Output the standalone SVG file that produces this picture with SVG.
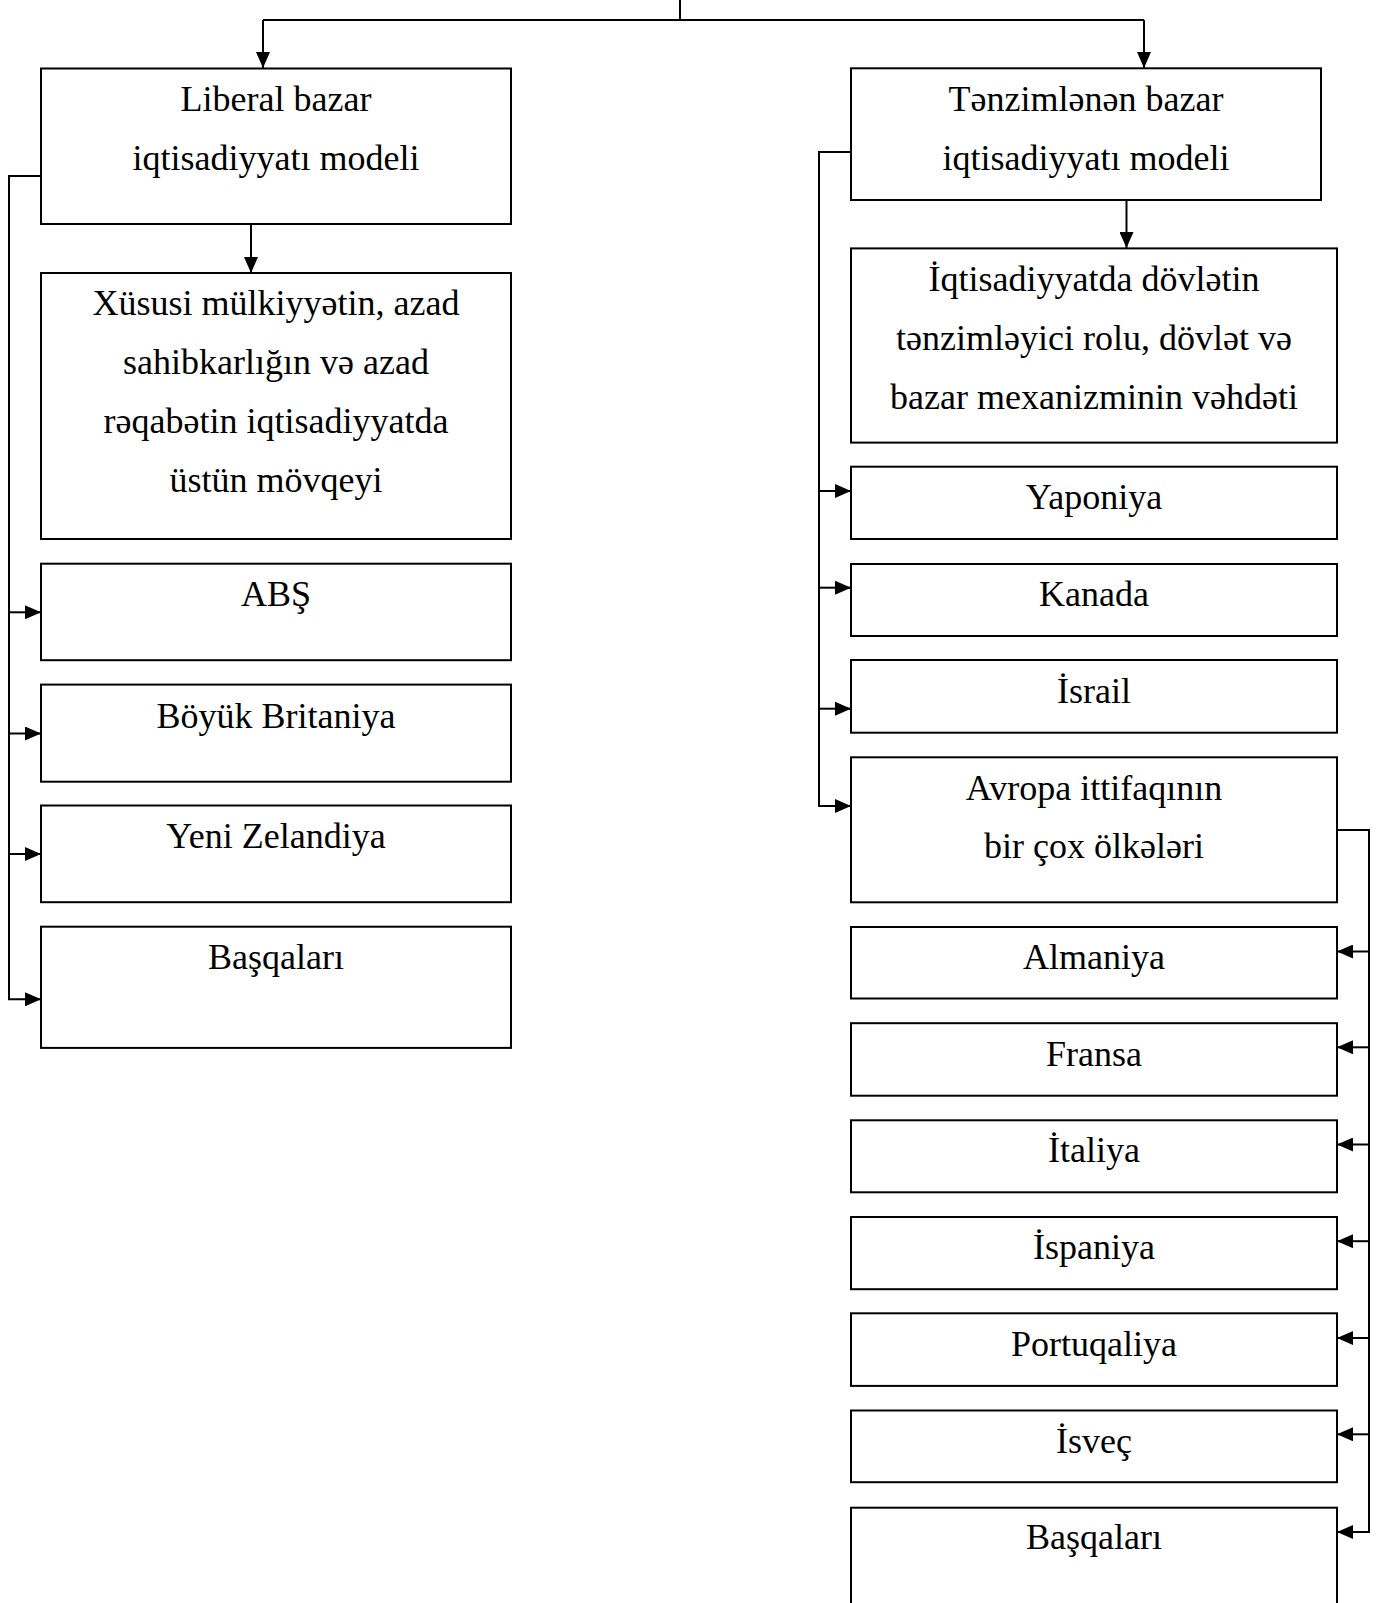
<svg xmlns="http://www.w3.org/2000/svg" width="1386" height="1603" viewBox="0 0 1386 1603">
<style>
.box{fill:#fff;stroke:#000;stroke-width:2}
.t{font-family:"Liberation Serif","Times New Roman","DejaVu Serif",serif;font-size:36px;fill:#000;text-anchor:middle}
.c{fill:none;stroke:#000;stroke-width:2}
</style>
<defs>
<marker id="ah" viewBox="0 0 16 14" refX="16" refY="7" markerWidth="16" markerHeight="14" markerUnits="userSpaceOnUse" orient="auto">
<path d="M0,0 L16,7 L0,14 z" fill="#000"/>
</marker>
</defs>
<rect width="1386" height="1603" fill="#fff"/>
<g id="connectors">
<path class="c" d="M680,0 V20 M263,20 H1144"/>
<path class="c" d="M263,20 V68" marker-end="url(#ah)"/>
<path class="c" d="M1144,20 V68" marker-end="url(#ah)"/>
<path class="c" d="M251,224 V273" marker-end="url(#ah)"/>
<path class="c" d="M1126.5,200 V248" marker-end="url(#ah)"/>
<path class="c" d="M41,176 H9 V999.3"/>
<path class="c" d="M9,612.3 H41" marker-end="url(#ah)"/>
<path class="c" d="M9,733.5 H41" marker-end="url(#ah)"/>
<path class="c" d="M9,854 H41" marker-end="url(#ah)"/>
<path class="c" d="M8,999.3 H41" marker-end="url(#ah)"/>
<path class="c" d="M851,152 H819 V806"/>
<path class="c" d="M819,491 H851" marker-end="url(#ah)"/>
<path class="c" d="M819,587.7 H851" marker-end="url(#ah)"/>
<path class="c" d="M819,708.7 H851" marker-end="url(#ah)"/>
<path class="c" d="M818,806 H851" marker-end="url(#ah)"/>
<path class="c" d="M1337,830 H1369 V1532"/>
<path class="c" d="M1369,951.5 H1337" marker-end="url(#ah)"/>
<path class="c" d="M1369,1047.3 H1337" marker-end="url(#ah)"/>
<path class="c" d="M1369,1144.5 H1337" marker-end="url(#ah)"/>
<path class="c" d="M1369,1241.2 H1337" marker-end="url(#ah)"/>
<path class="c" d="M1369,1338 H1337" marker-end="url(#ah)"/>
<path class="c" d="M1369,1434.3 H1337" marker-end="url(#ah)"/>
<path class="c" d="M1370,1532 H1337" marker-end="url(#ah)"/>
</g>
<g id="liberal">
<rect class="box" x="41" y="68.5" width="470" height="155.5"/>
<text class="t" x="276" y="111">Liberal bazar</text>
<text class="t" x="276" y="170">iqtisadiyyatı modeli</text>
</g>
<g id="xususi">
<rect class="box" x="41" y="273" width="470" height="266"/>
<text class="t" x="276" y="315">Xüsusi mülkiyyətin, azad</text>
<text class="t" x="276" y="374">sahibkarlığın və azad</text>
<text class="t" x="276" y="433">rəqabətin iqtisadiyyatda</text>
<text class="t" x="276" y="492">üstün mövqeyi</text>
</g>
<g id="abs">
<rect class="box" x="41" y="563.7" width="470" height="96.5"/>
<text class="t" x="276" y="606.1">ABŞ</text>
</g>
<g id="boyuk-britaniya">
<rect class="box" x="41" y="684.6" width="470" height="97.1"/>
<text class="t" x="276" y="727.6">Böyük Britaniya</text>
</g>
<g id="yeni-zelandiya">
<rect class="box" x="41" y="805.5" width="470" height="96.7"/>
<text class="t" x="276" y="847.8">Yeni Zelandiya</text>
</g>
<g id="basqalari-left">
<rect class="box" x="41" y="926.7" width="470" height="121.2"/>
<text class="t" x="276" y="969.4">Başqaları</text>
</g>
<g id="tenzimlenen">
<rect class="box" x="851" y="68.3" width="470" height="131.7"/>
<text class="t" x="1086" y="111">Tənzimlənən bazar</text>
<text class="t" x="1086" y="170">iqtisadiyyatı modeli</text>
</g>
<g id="dovlet-rolu">
<rect class="box" x="851" y="248.4" width="486" height="194.2"/>
<text class="t" x="1094" y="291.3">İqtisadiyyatda dövlətin</text>
<text class="t" x="1094" y="349.6">tənzimləyici rolu, dövlət və</text>
<text class="t" x="1094" y="408.8">bazar mexanizminin vəhdəti</text>
</g>
<g id="yaponiya">
<rect class="box" x="851" y="466.7" width="486" height="72.3"/>
<text class="t" x="1094" y="509.3">Yaponiya</text>
</g>
<g id="kanada">
<rect class="box" x="851" y="564" width="486" height="72"/>
<text class="t" x="1094" y="605.7">Kanada</text>
</g>
<g id="israil">
<rect class="box" x="851" y="660" width="486" height="72.7"/>
<text class="t" x="1094" y="702.7">İsrail</text>
</g>
<g id="avropa">
<rect class="box" x="851" y="757.3" width="486" height="145"/>
<text class="t" x="1094" y="800">Avropa ittifaqının</text>
<text class="t" x="1094" y="858.3">bir çox ölkələri</text>
</g>
<g id="almaniya">
<rect class="box" x="851" y="927" width="486" height="71.5"/>
<text class="t" x="1094" y="968.5">Almaniya</text>
</g>
<g id="fransa">
<rect class="box" x="851" y="1023.2" width="486" height="72.5"/>
<text class="t" x="1094" y="1065.7">Fransa</text>
</g>
<g id="italiya">
<rect class="box" x="851" y="1120.3" width="486" height="72"/>
<text class="t" x="1094" y="1162">İtaliya</text>
</g>
<g id="ispaniya">
<rect class="box" x="851" y="1217" width="486" height="72.2"/>
<text class="t" x="1094" y="1259.2">İspaniya</text>
</g>
<g id="portuqaliya">
<rect class="box" x="851" y="1313.3" width="486" height="72.6"/>
<text class="t" x="1094" y="1355.9">Portuqaliya</text>
</g>
<g id="isvec">
<rect class="box" x="851" y="1410.5" width="486" height="71.7"/>
<text class="t" x="1094" y="1453">İsveç</text>
</g>
<g id="basqalari-right">
<rect class="box" x="851" y="1507.7" width="486" height="120"/>
<text class="t" x="1094" y="1549.4">Başqaları</text>
</g>
</svg>
